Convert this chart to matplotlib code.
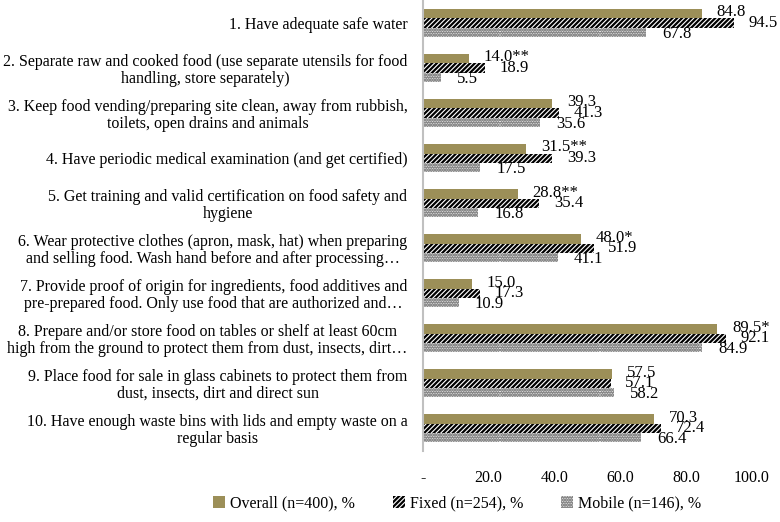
import numpy as np
import matplotlib
matplotlib.use("Agg")
import matplotlib.pyplot as plt

plt.rcParams['font.family'] = ['Liberation Serif', 'DejaVu Serif']
plt.rcParams['hatch.linewidth'] = 1.6

categories = [
    "1. Have adequate safe water",
    "2. Separate raw and cooked food (use separate utensils for food\nhandling, store separately)",
    "3. Keep food vending/preparing site clean, away from rubbish,\ntoilets, open drains and animals",
    "4. Have periodic medical examination (and get certified)",
    "5. Get training and valid certification on food safety and\nhygiene",
    "6. Wear protective clothes (apron, mask, hat) when preparing\nand selling food. Wash hand before and after processing\u2026",
    "7. Provide proof of origin for ingredients, food additives and\npre-prepared food. Only use food that are authorized and\u2026",
    "8. Prepare and/or store food on tables or shelf at least 60cm\nhigh from the ground to protect them from dust, insects, dirt\u2026",
    "9. Place food for sale in glass cabinets to protect them from\ndust, insects, dirt and direct sun",
    "10. Have enough waste bins with lids and empty waste on a\nregular basis",
]
overall = [84.8, 14.0, 39.3, 31.5, 28.8, 48.0, 15.0, 89.5, 57.5, 70.3]
overall_marks = ["", "**", "", "**", "**", "*", "", "*", "", ""]
fixed = [94.5, 18.9, 41.3, 39.3, 35.4, 51.9, 17.3, 92.1, 57.1, 72.4]
mobile = [67.8, 5.5, 35.6, 17.5, 16.8, 41.1, 10.9, 84.9, 58.2, 66.4]
xticks = [0, 20, 40, 60, 80, 100]
xtick_labels = ["-", "20.0", "40.0", "60.0", "80.0", "100.0"]

fig = plt.figure(figsize=(7.8, 5.22), dpi=100)
ax = fig.add_axes([0.542, 0.136, 0.422, 0.863])

y = np.arange(len(categories))
h = 0.207
b1 = ax.barh(y - h, overall, height=h, color='#9c8f58', linewidth=0,
             label='Overall (n=400), %')
b2 = ax.barh(y, fixed, height=h, color='white', edgecolor='black', hatch='///////',
             linewidth=0, label='Fixed (n=254), %')
b3 = ax.barh(y + h, mobile, height=h, color='white', edgecolor='#8a8a8a',
             hatch='..........', linewidth=0, label='Mobile (n=146), %')

fs = 11.5
vfs = 12
for i in range(len(categories)):
    ax.annotate(f"{overall[i]:.1f}{overall_marks[i]}", (overall[i], y[i] - h),
                xytext=(10.5, 1), textcoords='offset points', va='center', ha='left',
                fontsize=vfs, annotation_clip=False)
    ax.annotate(f"{fixed[i]:.1f}", (fixed[i], y[i]),
                xytext=(10.5, 0), textcoords='offset points', va='center', ha='left',
                fontsize=vfs, annotation_clip=False)
    ax.annotate(f"{mobile[i]:.1f}", (mobile[i], y[i] + h),
                xytext=(11.5, -1), textcoords='offset points', va='center', ha='left',
                fontsize=vfs, annotation_clip=False)

ax.set_xlim(0, 100)
ax.set_ylim(len(categories) - 0.5, -0.5)
ax.set_yticks(y)
ax.set_yticklabels(categories, fontsize=fs, multialignment='center', linespacing=1.05)
ax.set_xticks(xticks)
ax.set_xticklabels(xtick_labels, fontsize=fs)
ax.tick_params(axis='both', length=0)
ax.tick_params(axis='y', pad=11)
ax.tick_params(axis='x', pad=14)

for s in ['top', 'right', 'bottom']:
    ax.spines[s].set_visible(False)
ax.spines['left'].set_color('#c0c0c0')
ax.spines['left'].set_linewidth(1.5)

fig.legend(handles=[b1, b2, b3], loc='lower center', bbox_to_anchor=(0.586, -0.008),
           ncol=3, frameon=False, fontsize=fs, handlelength=0.75, handleheight=0.75,
           handletextpad=0.3, columnspacing=2.4)

fig.savefig("out.png", dpi=100)
